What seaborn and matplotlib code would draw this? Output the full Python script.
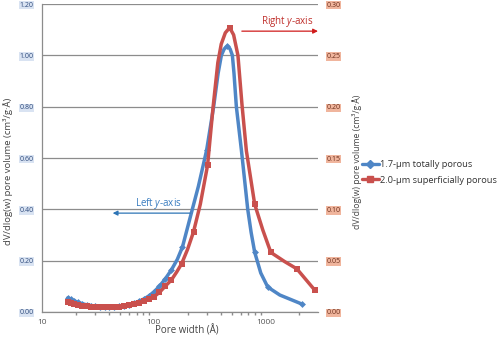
import numpy as np
import pandas as pd
import matplotlib
matplotlib.use("Agg")
import matplotlib.pyplot as plt
import seaborn as sns
from matplotlib.lines import Line2D

# ---------------- data ----------------
blue_w = [17, 18, 19.5, 21, 23, 25, 27.5, 30, 33, 36.5, 40, 44, 49, 54, 60, 66, 73, 81,
          90, 100, 112, 126, 143, 162, 180, 216, 250, 296, 342, 375, 401, 425, 454, 480,
          503, 520, 546, 606, 690, 740, 796, 902, 1042, 1336, 2100]
blue_v = [0.055, 0.049, 0.043, 0.037, 0.032, 0.028, 0.025, 0.022, 0.020, 0.019,
          0.019, 0.020, 0.022, 0.025, 0.029, 0.034, 0.041, 0.050, 0.062, 0.078,
          0.100, 0.128, 0.163, 0.205, 0.253, 0.385, 0.49, 0.63, 0.80, 0.93,
          1.00, 1.025, 1.036, 1.025, 1.00, 0.93, 0.80, 0.63, 0.40, 0.31,
          0.233, 0.152, 0.097, 0.066, 0.031]
blue_marker_w = [17, 18, 19.5, 21, 23, 25, 27.5, 30, 33, 36.5, 40, 44, 49, 54, 60, 66,
                 73, 81, 90, 100, 112, 126, 143, 180, 296, 454, 796, 1042, 2100]

red_w = [17, 18, 19.5, 21, 23, 25, 27.5, 30, 33, 36.5, 40, 44, 49, 54, 60, 66, 73, 81,
         90, 100, 112, 126, 143, 160, 177, 200, 226, 260, 302, 337, 373, 400, 435, 476,
         516, 564, 613, 671, 796, 940, 1110, 1480, 1897, 2755]
red_v = [0.0097, 0.0088, 0.0078, 0.0070, 0.0062, 0.0056, 0.0051, 0.0048, 0.0046, 0.0045,
         0.0046, 0.0048, 0.0052, 0.0058, 0.0066, 0.0076, 0.0088, 0.0103, 0.0122, 0.0148,
         0.019, 0.025, 0.031, 0.039, 0.047, 0.061, 0.078, 0.105, 0.143, 0.198,
         0.243, 0.261, 0.272, 0.277, 0.270, 0.250, 0.202, 0.157, 0.105, 0.080,
         0.058, 0.049, 0.042, 0.021]
red_marker_w = [17, 18, 19.5, 21, 23, 25, 27.5, 30, 33, 36.5, 40, 44, 49, 54, 60, 66,
                73, 81, 90, 100, 112, 126, 143, 177, 226, 302, 476, 796, 1110, 1897, 2755]

left_ticks = [0.0, 0.2, 0.4, 0.6, 0.8, 1.0, 1.2]
right_ticks = [0.0, 0.05, 0.10, 0.15, 0.20, 0.25, 0.30]
x_ticks = [10, 100, 1000]

series_names = ["1.7-\u00b5m totally porous", "2.0-\u00b5m superficially porous"]
ylabel = "dV/dlog(w) pore volume (cm\u00b3/g\u00b7\u00c5)"
xlabel = "Pore width (\u00c5)"

BLUE = "#4F86C6"
RED = "#C9504D"

# ---------------- style ----------------
sns.set_theme(style="white")
plt.rcParams["font.family"] = ["Open Sans", "DejaVu Sans"]
plt.rcParams["mathtext.fontset"] = "custom"
plt.rcParams["mathtext.it"] = "Open Sans:italic"
plt.rcParams["mathtext.rm"] = "Open Sans"

fig = plt.figure(figsize=(5.0, 3.38), dpi=100)
ax = fig.add_axes([0.084, 0.077, 0.552, 0.911])
ax2 = ax.twinx()

df_b = pd.DataFrame({"w": blue_w, "v": blue_v})
df_r = pd.DataFrame({"w": red_w, "v": red_v})
b_idx = [i for i, w in enumerate(blue_w) if w in blue_marker_w]
r_idx = [i for i, w in enumerate(red_w) if w in red_marker_w]

sns.lineplot(data=df_b, x="w", y="v", ax=ax, color=BLUE, lw=2.5, marker="D",
             markersize=3.5, markevery=b_idx, markeredgewidth=0,
             estimator=None, sort=False, zorder=3, legend=False)
sns.lineplot(data=df_r, x="w", y="v", ax=ax2, color=RED, lw=2.5, marker="s",
             markersize=3.8, markevery=r_idx, markeredgewidth=0,
             estimator=None, sort=False, zorder=3, legend=False)

ax.set_xscale("log")
ax.set_xlim(10, 2930)
ax.set_ylim(0, 1.2)
ax2.set_ylim(0, 0.30)

ax.set_yticks(left_ticks)
ax.set_yticklabels([f"{t:.2f}" for t in left_ticks])
ax2.set_yticks(right_ticks)
ax2.set_yticklabels([f"{t:.2f}" for t in right_ticks])
ax.set_xticks(x_ticks)
ax.set_xticklabels([str(t) for t in x_ticks])

ax.grid(axis="y", color="#8c8c8c", lw=0.9)
ax.grid(axis="x", visible=False)
ax2.grid(False)

for s in ["top", "right"]:
    ax.spines[s].set_visible(False)
for s in ["top", "right", "left", "bottom"]:
    ax2.spines[s].set_visible(False)
ax.spines["left"].set_color("#8c8c8c")
ax.spines["bottom"].set_color("#8c8c8c")
ax.spines["left"].set_linewidth(0.9)
ax.spines["bottom"].set_linewidth(0.9)

ax.tick_params(axis="x", which="major", length=3, color="#8c8c8c", labelsize=6,
               labelcolor="#555555", pad=2, direction="out")
ax.tick_params(axis="x", which="minor", length=2, color="#8c8c8c", bottom=True)
ax.tick_params(axis="y", length=0, labelsize=5, labelcolor="#2f4b7c", pad=6)
ax2.tick_params(axis="y", length=0, labelsize=5, labelcolor="#6b2f1c", pad=6)

for lab in ax.get_yticklabels():
    lab.set_bbox(dict(boxstyle="square,pad=0.1", fc="#d9e3f2", ec="none"))
for lab in ax2.get_yticklabels():
    lab.set_bbox(dict(boxstyle="square,pad=0.1", fc="#f0b59d", ec="none"))

ax.set_xlabel(xlabel, fontsize=7, color="#444444")
ax.xaxis.set_label_coords(0.525, -0.042)
ax.set_ylabel(ylabel, fontsize=6.8, color="#444444")
ax.yaxis.set_label_coords(-0.106, 0.458)
ax2.set_ylabel(ylabel, fontsize=6.2, color="#444444")
ax2.yaxis.set_label_coords(1.122, 0.487)

# annotations
ax.annotate("", xy=(0.246, 0.321), xytext=(0.547, 0.321), xycoords="axes fraction",
            arrowprops=dict(arrowstyle="-|>", color="#2e75b6", lw=0.9,
                            mutation_scale=7))
ax.text(0.42, 0.352, "Left $y$-axis", transform=ax.transAxes, ha="center",
        va="center", fontsize=7, color="#3a7dc0")
ax.annotate("", xy=(1.01, 0.912), xytext=(0.714, 0.912), xycoords="axes fraction",
            arrowprops=dict(arrowstyle="-|>", color="#d01c1c", lw=0.9,
                            mutation_scale=7), annotation_clip=False)
ax.text(0.89, 0.942, "Right $y$-axis", transform=ax.transAxes, ha="center",
        va="center", fontsize=7, color="#c0302c")

handles = [Line2D([], [], color=BLUE, lw=2.4, marker="D", markersize=4),
           Line2D([], [], color=RED, lw=2.4, marker="s", markersize=4)]
fig.legend(handles, series_names, loc="center left", bbox_to_anchor=(0.724, 0.49),
           frameon=False, fontsize=6.7, handlelength=1.8, handletextpad=0.1,
           labelspacing=0.7, labelcolor="#333333", borderpad=0, borderaxespad=0)

fig.savefig("out.png", dpi=100)
